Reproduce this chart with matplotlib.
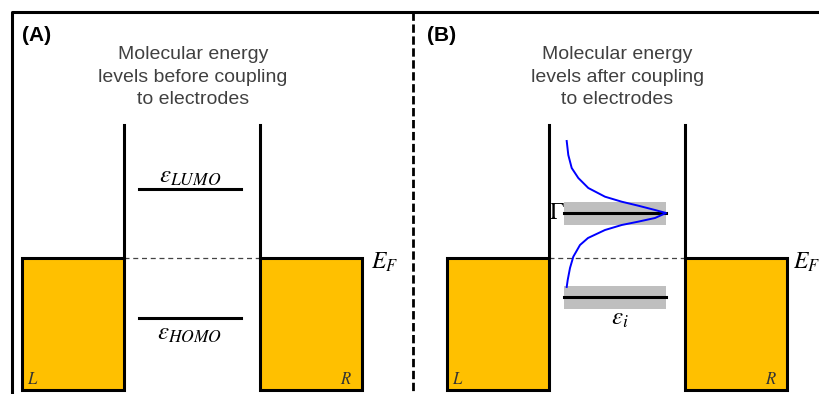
import numpy as np
import matplotlib.pyplot as plt
from matplotlib.patches import Rectangle

plt.rcParams['mathtext.fontset'] = 'stix'
plt.rcParams['font.family'] = ['Liberation Sans', 'DejaVu Sans']

# panel contents
panel_tags = ['(A)', '(B)']
panel_titles = ['Molecular energy\nlevels before coupling\nto electrodes',
                'Molecular energy\nlevels after coupling\nto electrodes']
levels_A = [189, 318]              # LUMO, HOMO (pixel rows)
level_names_A = [r'$\varepsilon_{LUMO}$', r'$\varepsilon_{HOMO}$']
levels_B = [213, 297]              # broadened levels
fermi = 258

# broadened density of states
dos_x = [566.7, 568.3, 571.7, 578.3, 588.3, 605, 621.7, 638.3, 655, 666,
         655, 638, 621.7, 605, 588, 580, 573.3, 570, 567.7, 566.7]
dos_y = [141, 155, 168, 178, 188, 196.7, 201.7, 205.7, 210, 213,
         218, 221.7, 225, 230, 238, 245, 256.7, 268, 280, 287]

gold = '#FFC000'
lw = 2.2

fig = plt.figure(figsize=(8.2, 3.94), dpi=100)
ax = fig.add_axes([0, 0, 1, 1])
ax.set_xlim(0, 820)
ax.set_ylim(394, 0)
ax.axis('off')

# outer frame and divider
ax.plot([12, 12, 820], [394, 12, 12], color='black', lw=lw, solid_capstyle='butt')
ax.plot([413, 413], [12, 394], color='black', lw=2, ls=(0, (3, 1.3)))

for i, off in enumerate([0, 425]):
    # electrodes
    for x0 in [22 + off, 260 + off]:
        ax.add_patch(Rectangle((x0, fermi), 102, 132, facecolor=gold,
                               edgecolor='black', lw=lw, zorder=2))
    # barriers
    for xw in [124 + off, 260 + off]:
        ax.plot([xw, xw], [125, fermi], color='black', lw=lw, zorder=3)
    ax.plot([124 + off, 260 + off], [fermi, fermi], color='#444444', lw=0.9,
            ls=(0, (4, 3)), zorder=1)
    ax.text(371 + off - 3 * i, 262, r'$E_F$', fontsize=17, va='center', ha='left')
    ax.text(27 + off, 379, r'$L$', fontsize=12, va='center', ha='left', color='#333333')
    ax.text(352 + off, 379, r'$R$', fontsize=12, va='center', ha='right', color='#333333')
    ax.text(193 + off * 0.998, 77, panel_titles[i], fontsize=14, ha='center',
            va='center', color='#404040', linespacing=1.4)

ax.text(22, 35, panel_tags[0], fontsize=15, fontweight='bold', va='center')
ax.text(427, 35, panel_tags[1], fontsize=15, fontweight='bold', va='center')

# panel A: sharp levels
for y, name, dy in zip(levels_A, level_names_A, [-13, 15]):
    ax.plot([139, 241], [y, y], color='black', lw=lw)
    ax.text(190, y + dy, name, fontsize=18, ha='center', va='center')

# panel B: broadened levels
for y in levels_B:
    ax.add_patch(Rectangle((564, y - 11.5), 102, 23, facecolor='#BFBFBF',
                           edgecolor='none', zorder=1))
    ax.plot([564, 666], [y, y], color='black', lw=lw, zorder=2)
ax.plot(dos_x, dos_y, color='blue', lw=1.4, zorder=4)
ax.text(557, 213, r'$\Gamma$', fontsize=17, ha='center', va='center', zorder=5)
ax.text(620, 318, r'$\varepsilon_i$', fontsize=18, ha='center', va='center')

plt.savefig('out.png', dpi=100)
